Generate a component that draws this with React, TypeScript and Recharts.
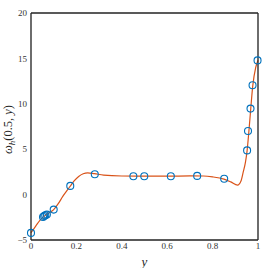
import React from 'react';
import { ComposedChart, Line, Scatter, XAxis, YAxis, CartesianGrid } from 'recharts';

// curve
const curveX = [0, 0.02, 0.04, 0.055, 0.065, 0.08, 0.1, 0.12, 0.14, 0.16, 0.175, 0.19, 0.21, 0.23, 0.25, 0.28, 0.32, 0.4, 0.5, 0.6, 0.7, 0.76, 0.8, 0.85, 0.88, 0.91, 0.925, 0.935, 0.945, 0.952, 0.96, 0.968, 0.977, 0.99, 1.0];
const curveY = [-4.2, -3.5, -2.8, -2.45, -2.25, -2.0, -1.65, -1.0, -0.2, 0.5, 1.0, 1.5, 2.0, 2.3, 2.4, 2.3, 2.15, 2.05, 2.03, 2.03, 2.06, 2.05, 1.95, 1.7, 1.4, 1.05, 1.5, 2.5, 3.6, 4.85, 7.0, 9.45, 12.0, 14.0, 14.8];

// sample points (open circles)
const pointX = [0, 0.053, 0.058, 0.063, 0.07, 0.1, 0.173, 0.281, 0.451, 0.499, 0.616, 0.732, 0.851, 0.952, 0.956, 0.967, 0.976, 0.998];
const pointY = [-4.22, -2.46, -2.35, -2.28, -2.2, -1.65, 0.96, 2.24, 2.02, 2.02, 2.02, 2.06, 1.74, 4.87, 7.0, 9.47, 12.05, 14.78];

const xTicks = [0, 0.2, 0.4, 0.6, 0.8, 1];
const yTicks = [-5, 0, 5, 10, 15, 20];

const curve = curveX.map((x, i) => ({ x, y: curveY[i] }));
const points = pointX.map((x, i) => ({ x, y: pointY[i] }));

const FONT = '"Liberation Serif", "DejaVu Serif", serif';
const AXIS = '#262626';

const fmtY = (v: number) => (v < 0 ? `\u2212${Math.abs(v)}` : `${v}`);

const openCircle = (p: any) => (
  <circle cx={p.cx} cy={p.cy} r={3.5} fill="none" stroke="#0072BD" strokeWidth={1.1} />
);

const YLabel = (props: any) => {
  const vb = props.viewBox || { x: 0, y: 0, height: 0 };
  const cx = 12;
  const cy = vb.y + vb.height / 2 + 3;
  return (
    <text
      x={cx}
      y={cy}
      transform={`rotate(-90, ${cx}, ${cy})`}
      textAnchor="middle"
      fontFamily={FONT}
      fontSize={12.5}
      fill={AXIS}
    >
      <tspan fontStyle="italic">ω</tspan>
      <tspan fontStyle="italic" fontSize={9} dy={3}>h</tspan>
      <tspan dy={-3}>(0.5, </tspan>
      <tspan fontStyle="italic">y</tspan>
      <tspan>)</tspan>
    </text>
  );
};

export default function App() {
  return (
    <div style={{ position: 'absolute', left: 0, top: 0, background: '#fff' }}>
      <ComposedChart width={270} height={268} margin={{ top: 13, right: 12, left: 0, bottom: 0 }}>
        <CartesianGrid stroke="#e3e3e3" strokeWidth={1} />
        <XAxis
          xAxisId="b"
          dataKey="x"
          type="number"
          domain={[0, 1]}
          ticks={xTicks}
          height={28}
          tickLine={false}
          tickSize={0}
          tickMargin={3}
          axisLine={{ stroke: AXIS, strokeWidth: 1.3 }}
          tick={{ fontSize: 9, fill: '#333', fontFamily: FONT }}
          label={{ value: 'y', position: 'insideBottom', offset: 2, fontStyle: 'italic', fontSize: 13, fill: AXIS, fontFamily: FONT }}
        />
        <XAxis
          xAxisId="bt"
          type="number"
          domain={[0, 1]}
          ticks={xTicks}
          mirror
          tick={false}
          tickSize={3}
          axisLine={false}
          tickLine={{ stroke: AXIS }}
        />
        <XAxis
          xAxisId="t"
          orientation="top"
          type="number"
          domain={[0, 1]}
          ticks={xTicks}
          mirror
          tick={false}
          tickSize={3}
          axisLine={{ stroke: AXIS, strokeWidth: 1.3 }}
          tickLine={{ stroke: AXIS }}
        />
        <YAxis
          yAxisId="l"
          type="number"
          domain={[-5, 20]}
          ticks={yTicks}
          width={31}
          tickLine={false}
          tickSize={0}
          tickMargin={4}
          axisLine={{ stroke: AXIS, strokeWidth: 1.3 }}
          tickFormatter={fmtY}
          tick={{ fontSize: 9, fill: '#333', fontFamily: FONT }}
          label={{ content: <YLabel /> }}
        />
        <YAxis
          yAxisId="lt"
          type="number"
          domain={[-5, 20]}
          ticks={yTicks}
          mirror
          tick={false}
          tickSize={3}
          axisLine={false}
          tickLine={{ stroke: AXIS }}
        />
        <YAxis
          yAxisId="r"
          orientation="right"
          type="number"
          domain={[-5, 20]}
          ticks={yTicks}
          mirror
          tick={false}
          tickSize={3}
          axisLine={{ stroke: AXIS, strokeWidth: 1.3 }}
          tickLine={{ stroke: AXIS }}
        />
        <Line
          xAxisId="b"
          yAxisId="l"
          data={curve}
          dataKey="y"
          type="monotone"
          stroke="#D95319"
          strokeWidth={1.2}
          dot={false}
          activeDot={false}
          isAnimationActive={false}
        />
        <Scatter
          xAxisId="b"
          yAxisId="l"
          data={points}
          dataKey="y"
          shape={openCircle}
          isAnimationActive={false}
        />
      </ComposedChart>
    </div>
  );
}
